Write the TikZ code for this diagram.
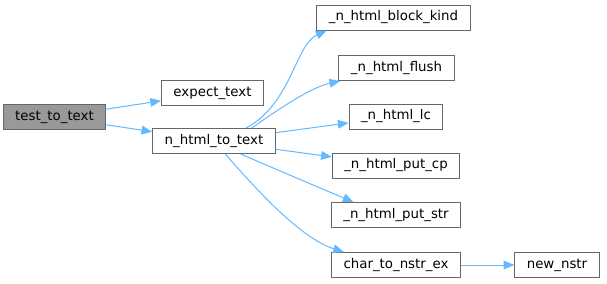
\documentclass[tikz,border=0pt]{standalone}
\usepackage{fontspec}
\setmainfont{DejaVu Sans}
\usetikzlibrary{arrows.meta}
\definecolor{CallEdge}{RGB}{99,184,255}
\definecolor{CallLine}{RGB}{102,102,102}
\definecolor{CallRoot}{RGB}{153,153,153}

\begin{document}
\begin{tikzpicture}[x=0.75pt,y=0.75pt,
  fn/.style={draw=CallLine,fill=white,line width=0.75pt,inner xsep=9pt,inner ysep=0pt,minimum height=18.75pt,font=\fontsize{10}{12}\selectfont},
  call/.style={-{Triangle[length=8pt,width=6.5pt]},draw=CallEdge,line width=0.75pt}]
  \useasboundingbox (0,0) rectangle (607,283);
  \node[fn,fill=CallRoot] (tt) at (54.5,166) {test\_to\_text};
  \node[fn] (et) at (212.5,190) {expect\_text};
  \node[fn] (to) at (214,142) {n\_html\_to\_text};
  \node[fn] (bk) at (393.5,265.5) {\_n\_html\_block\_kind};
  \node[fn] (fl) at (396.5,215) {\_n\_html\_flush};
  \node[fn] (lc) at (396,166.5) {\_n\_html\_lc};
  \node[fn] (cp) at (396,117.5) {\_n\_html\_put\_cp};
  \node[fn] (ps) at (396,68) {\_n\_html\_put\_str};
  \node[fn] (ce) at (396,18) {char\_to\_nstr\_ex};
  \node[fn] (nn) at (557,18) {new\_nstr};
  \draw[call] (tt) -- (et);
  \draw[call] (tt) -- (to);
  \draw[call] (to.22) .. controls (292,180) and (295,238) .. (bk.191);
  \draw[call] (to.19) .. controls (280,175) and (312,196) .. (fl.193);
  \draw[call] (to) -- (lc);
  \draw[call] (to) -- (cp);
  \draw[call] (to.-26) .. controls (280,112) and (320,95) .. (ps.163);
  \draw[call] (to.-49) .. controls (255,95) and (300,45) .. (ce.166);
  \draw[call] (ce) -- (nn);
\end{tikzpicture}
\end{document}
